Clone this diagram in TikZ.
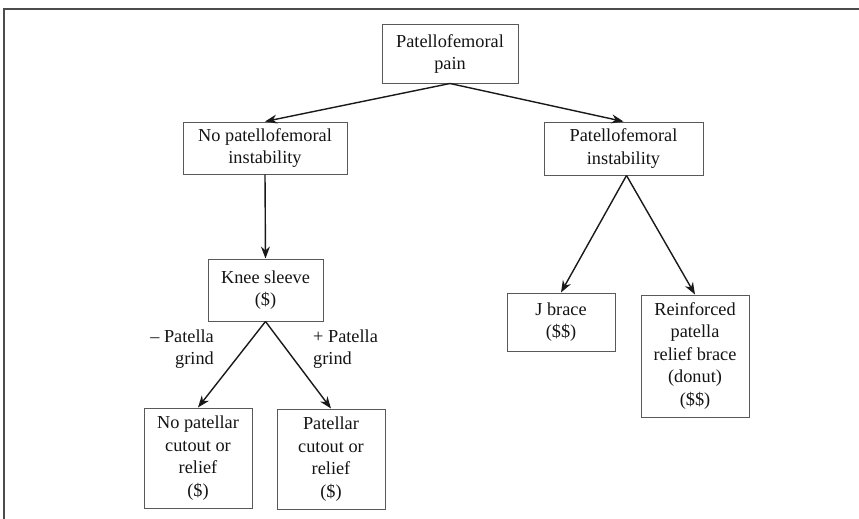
\documentclass[tikz,border=0pt]{standalone}
\usepackage{fontspec}
\setmainfont{Liberation Serif}
\usetikzlibrary{arrows.meta}
\begin{document}
\begin{tikzpicture}[x=1pt,y=-1pt,
  box/.style={draw=black!65, line width=1pt, align=center, inner sep=0pt,
    font=\fontsize{18.3}{22.5}\selectfont, text=black!92},
  arr/.style={draw=black!90, line width=1.4pt, -{Stealth[length=12pt,width=9pt]}},
  lbl/.style={font=\fontsize{18.3}{22.5}\selectfont, inner sep=0pt, text=black!92},
  frame/.style={draw=black!70, line width=1.5pt}]
\useasboundingbox (0,0) rectangle (859,519);
\coordinate (fr) at (859,9);
\coordinate (fc) at (4,9);
\coordinate (fb) at (4,519);
\draw[frame] (fr) -- (fc) -- (fb);

\node[box, minimum width=136pt, minimum height=58pt] (top) at (450,54) {Patellofemoral\\pain};
\node[box, minimum width=164pt, minimum height=52pt] (noinst) at (265,148) {No patellofemoral\\instability};
\node[box, minimum width=159pt, minimum height=53pt] (inst) at (623.5,148.5) {Patellofemoral\\instability};
\node[box, minimum width=115pt, minimum height=62pt] (knee) at (265.5,290) {Knee sleeve\\(\$)};
\node[box, minimum width=108pt, minimum height=100pt] (nocut) at (198,458) {No patellar\\cutout or\\relief\\(\$)};
\node[box, minimum width=108pt, minimum height=100pt] (cut) at (331,459) {Patellar\\cutout or\\relief\\(\$)};
\node[box, minimum width=108pt, minimum height=58pt] (jb) at (561,322) {J brace\\(\$\$)};
\node[box, minimum width=108pt, minimum height=122pt] (rb) at (695,356) {Reinforced\\patella\\relief brace\\(donut)\\(\$\$)};

\node[lbl, anchor=east, align=right] (minus) at (214,349) {– Patella\\grind};
\node[lbl, anchor=west, align=left] (plus) at (313,349) {+ Patella\\grind};

\draw[arr] (top.south) -- (noinst.north);
\draw[arr] (top.south) -- (inst.north);
\draw[arr] (noinst.south) -- (knee.north);
\draw[arr] (knee.south) -- (nocut.north);
\draw[arr] (knee.south) -- (cut.north);
\draw[arr] ([xshift=3pt]inst.south) -- (jb.north);
\draw[arr] ([xshift=3pt]inst.south) -- (rb.north);
\end{tikzpicture}
\end{document}
